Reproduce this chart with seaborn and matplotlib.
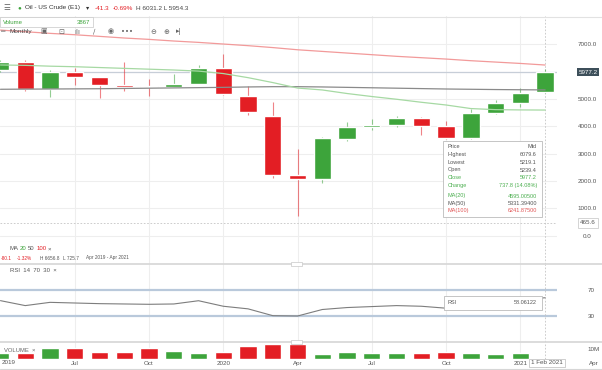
import numpy as np
import pandas as pd
import matplotlib.pyplot as plt
import seaborn as sns
from matplotlib.patches import Rectangle
from matplotlib.lines import Line2D

# --- Data (monthly candles, Apr 2019 .. Feb 2021) ---
months = ["Apr 2019", "May 2019", "Jun 2019", "Jul 2019", "Aug 2019", "Sep 2019",
          "Oct 2019", "Nov 2019", "Dec 2019", "Jan 2020", "Feb 2020", "Mar 2020",
          "Apr 2020", "May 2020", "Jun 2020", "Jul 2020", "Aug 2020", "Sep 2020",
          "Oct 2020", "Nov 2020", "Dec 2020", "Jan 2021", "Feb 2021"]
opens  = [6061, 6364, 5355, 5998, 5794, 5512, 5475, 5450, 5548, 6123, 5110, 4378,
          2216, 2070, 3526, 3965, 4049, 4316, 4023, 3584, 4499, 4843, 5239.4]
highs  = [6420, 6426, 6050, 6123, 5820, 6364, 5720, 5903, 6244, 6656.8, 5475, 4901,
          3160, 3600, 4170, 4268, 4378, 4330, 4195, 4623, 4963, 5391, 6079.6]
lows   = [6000, 5300, 5084, 5512, 5048, 5304, 5121, 5430, 5530, 5150, 4415, 2100,
          725.7, 1940, 3464, 3866, 3990, 3683, 3525, 3550, 4440, 4718, 5219.1]
closes = [6364, 5355, 5998, 5794, 5512, 5450, 5440, 5560, 6123, 5183, 4535, 2216,
          2070, 3562, 3965, 4049, 4316, 4012, 3584, 4499, 4843, 5230, 5977.2]
ma20   = [6244, 6230, 6200, 6180, 6150, 6120, 6090, 6060, 6020, 5930, 5780, 5600,
          5400, 5330, 5200, 5090, 4990, 4880, 4780, 4650, 4610, 4600, 4595.0]
ma50   = [5355, 5360, 5365, 5370, 5375, 5385, 5395, 5405, 5415, 5425, 5440, 5450,
          5450, 5440, 5425, 5410, 5395, 5380, 5365, 5355, 5345, 5338, 5331.4]
ma100  = [7520, 7460, 7400, 7350, 7290, 7230, 7180, 7120, 7070, 7010, 6950, 6880,
          6800, 6740, 6680, 6620, 6560, 6510, 6460, 6400, 6350, 6300, 6241.9]
rsi    = [53.6, 46.0, 51.0, 50.0, 49.0, 48.5, 48.0, 48.5, 53.5, 45.0, 41.0, 30.5,
          30.0, 40.0, 43.0, 44.5, 46.0, 45.0, 42.0, 50.0, 53.0, 55.5, 58.06]
volume_m = [6.2, 6.2, 11.0, 11.0, 6.9, 6.9, 11.0, 8.6, 6.5, 7.2, 13.4, 15.2,
            15.2, 5.2, 7.2, 5.9, 5.9, 6.5, 7.2, 6.5, 5.2, 5.9, 0.004]

tick_pos    = [3, 6, 9, 12, 15, 18, 21]
tick_labels = ["Jul", "Oct", "2020", "Apr", "Jul", "Oct", "2021"]
price_ticks = [0, 1000, 2000, 3000, 4000, 5000, 6000, 7000]

df = pd.DataFrame({"month": months, "open": opens, "high": highs, "low": lows,
                   "close": closes, "ma20": ma20, "ma50": ma50, "ma100": ma100,
                   "rsi": rsi, "volume": volume_m})
df["idx"] = np.arange(len(df))
df["up"] = df["close"] >= df["open"]

RED = "#e31e24"
GREEN = "#3da43b"
GRID = "#eeeeee"
TXT = "#555555"
W, H = 602, 370
XLIM = (-0.02, 22.48)

sns.set_theme(style="white")
plt.rcParams["font.family"] = ["Liberation Sans", "DejaVu Sans"]

fig = plt.figure(figsize=(W / 100, H / 100), dpi=100)


def px_axes(x0, y0, x1, y1):
    return fig.add_axes([x0 / W, 1 - y1 / H, (x1 - x0) / W, (y1 - y0) / H])


def ftext(x, y, s, **kw):
    kw.setdefault("fontsize", 4.3)
    kw.setdefault("va", "center")
    kw.setdefault("color", TXT)
    return fig.text(x / W, 1 - y / H, s, **kw)


def fbox(x0, y0, x1, y1, fc="white", ec="#bbbbbb", lw=0.6, z=5):
    fig.add_artist(Rectangle((x0 / W, 1 - y1 / H), (x1 - x0) / W, (y1 - y0) / H,
                             transform=fig.transFigure, fc=fc, ec=ec, lw=lw, zorder=z))


def fline(x0, y0, x1, y1, **kw):
    fig.add_artist(Line2D([x0 / W, x1 / W], [1 - y0 / H, 1 - y1 / H],
                          transform=fig.transFigure, **kw))


def style_axes(ax):
    for s in ax.spines.values():
        s.set_visible(False)
    ax.set_xlim(*XLIM)
    ax.set_xticks(tick_pos)
    ax.grid(axis="x", color=GRID, lw=0.8)
    ax.yaxis.tick_right()
    ax.tick_params(length=0, labelsize=4.5, labelcolor=TXT, pad=22)
    ax.set_xlabel("")
    ax.set_ylabel("")


# --- Price panel ---
ax_p = px_axes(0, 16, 557, 264)
style_axes(ax_p)
ax_p.set_ylim(-1035, 8035)
ax_p.set_yticks(price_ticks)
ax_p.set_yticklabels([f"{v:.1f}" for v in price_ticks])
ax_p.grid(axis="y", color=GRID, lw=0.8)
ax_p.tick_params(labelbottom=False)
for lbl in ax_p.get_yticklabels():
    lbl.set_ha("center")

cols = [GREEN if u else RED for u in df["up"]]
ax_p.vlines(df["idx"], df["low"], df["high"], colors=cols, lw=0.8, alpha=0.55, zorder=2)
ax_p.bar(df["idx"], df["close"] - df["open"], bottom=df["open"], width=0.7,
         color=cols, zorder=3)

sns.lineplot(data=df, x="idx", y="ma100", color="#f29a9a", lw=0.9, ax=ax_p, zorder=4)
sns.lineplot(data=df, x="idx", y="ma50", color="#8a8a8a", lw=0.9, ax=ax_p, zorder=4)
sns.lineplot(data=df, x="idx", y="ma20", color="#a6d9a3", lw=0.9, ax=ax_p, zorder=4)
ax_p.set_xlabel("")
ax_p.set_ylabel("")

ax_p.axhline(closes[-1], color="#c7ced8", lw=0.9, zorder=1)
ax_p.axhline(465.6, color="#c4c4c4", lw=0.6, ls=(0, (2, 2)), zorder=1)
ax_p.axvline(22, color="#c4c4c4", lw=0.6, ls=(0, (2, 2)), zorder=1)

ytr = ax_p.get_yaxis_transform()
ax_p.text(31 / 557 + 1, closes[-1], f"{closes[-1]:.1f}", transform=ytr, ha="center",
          va="center", fontsize=4.5, color="white", clip_on=False, zorder=10,
          bbox=dict(boxstyle="square,pad=0.25", fc="#3d4f5a", ec="none"))
ax_p.text(31 / 557 + 1, 465.6, "465.6", transform=ytr, ha="center", va="center",
          fontsize=4.5, color=TXT, clip_on=False, zorder=10,
          bbox=dict(boxstyle="square,pad=0.35", fc="white", ec="#c4c4c4", lw=0.5))

# --- RSI panel ---
ax_r = px_axes(0, 264, 557, 342)
style_axes(ax_r)
ax_r.set_ylim(-10, 110)
ax_r.set_yticks([30, 70])
ax_r.set_yticklabels(["30", "70"])
ax_r.tick_params(labelbottom=False)
ax_r.axhline(70, color="#b9c9db", lw=1.6, zorder=1)
ax_r.axhline(30, color="#b9c9db", lw=1.6, zorder=1)
sns.lineplot(data=df, x="idx", y="rsi", color="#7d7d7d", lw=0.8, ax=ax_r, zorder=3)
ax_r.set_xlabel("")
ax_r.set_ylabel("")
ax_r.axvline(22, color="#c4c4c4", lw=0.6, ls=(0, (2, 2)), zorder=1)

# --- Volume panel ---
ax_v = px_axes(0, 342, 557, 359)
sns.barplot(data=df, x="idx", y="volume", hue="up", palette={True: GREEN, False: RED},
            width=0.7, dodge=False, legend=False, saturation=1, ax=ax_v)
style_axes(ax_v)
ax_v.set_ylim(0, 17.5)
ax_v.set_yticks([10])
ax_v.set_yticklabels(["10M"])
ax_v.set_xticklabels(tick_labels)
ax_v.tick_params(axis="x", pad=1.5)
ax_v.axvline(22, color="#c4c4c4", lw=0.6, ls=(0, (2, 2)), zorder=1)

# --- Separators and bottom ---
fline(0, 16.5, W, 16.5, color="#e2e2e2", lw=0.8)
for ys in (264, 342):
    fline(0, ys, W, ys, color="#d6d6d6", lw=1.2)
    fbox(291, ys - 2, 302, ys + 2, fc="white", ec="#c8c8c8", lw=0.5)
fline(0, 368.5, W, 368.5, color="#d6d6d6", lw=0.8)
fline(545.5, 359, 545.5, 368, color="#c4c4c4", lw=0.6, ls=(0, (2, 2)))
ftext(2, 363, "2019", fontsize=4.5)
ftext(594, 363, "Apr", fontsize=4.5, ha="center")
ftext(547, 363, "1 Feb 2021", fontsize=4.5, ha="center", zorder=8,
      bbox=dict(boxstyle="square,pad=0.3", fc="white", ec="#bbbbbb", lw=0.5))

# --- Header ---
ftext(3, 8, "☰", fontsize=5.5, color="#666666")
ftext(17, 8, "●", fontsize=4.5, color=GREEN)
ftext(25, 8, "Oil - US Crude (E1)", fontsize=4.6, color="#333333")
ftext(86, 8, "▾", fontsize=4.6, color="#333333")
ftext(95, 8, "-41.3", fontsize=4.6, color=RED)
ftext(113, 8, "-0.69%", fontsize=4.6, color=RED)
ftext(136, 8, "H 6031.2 L 5954.3", fontsize=4.6, color="#444444")

fbox(0, 17, 93, 27, fc="white", ec="#c8c8c8", lw=0.5, z=6)
ftext(3, 22, "Volume", fontsize=4.3, color=GREEN, zorder=7)
ftext(90, 22, "3867", fontsize=4.3, color=GREEN, ha="right", zorder=7)

ftext(1, 31.5, "═", fontsize=4.5, color="#777777")
ftext(10, 31.5, "Monthly", fontsize=4.6, color="#444444")
for x, g in [(44, "▣"), (61, "⊡"), (77, "ılı"), (94, "∕"), (111, "◉"),
             (127, "•••"), (153, "⊖"), (166, "⊕"), (179, "▸|")]:
    ftext(x, 31.5, g, fontsize=5, color="#666666", ha="center", family="DejaVu Sans")

# --- Indicator legends ---
ftext(10, 249, "MA", fontsize=4.3)
ftext(20, 249, "20", fontsize=4.3, color=GREEN)
ftext(28, 249, "50", fontsize=4.3)
ftext(37, 249, "100", fontsize=4.3, color=RED)
ftext(48, 249, "×", fontsize=4.3)
ftext(1, 258, "-80.1", fontsize=3.4, color=RED)
ftext(17, 258, "-1.32%", fontsize=3.4, color=RED)
ftext(40, 258, "H 6656.8", fontsize=3.4)
ftext(63, 258, "L 725.7", fontsize=3.4)
ftext(86, 258, "Apr 2019 - Apr 2021", fontsize=3.4)
ftext(10, 271, "RSI  14  70  30  ×", fontsize=4.3)
ftext(4, 350, "VOLUME  ×", fontsize=4.2, color="#666666", zorder=7,
      bbox=dict(boxstyle="square,pad=0.15", fc="white", ec="none", alpha=0.55))

# --- Tooltip ---
fbox(443, 141, 542, 217, fc="white", ec="#bbbbbb", lw=0.6, z=8)
rows = [(146.7, "Price", "Mid", TXT), (155, "Highest", f"{highs[-1]:.1f}", TXT),
        (162.3, "Lowest", f"{lows[-1]:.1f}", TXT), (170, "Open", f"{opens[-1]:.1f}", TXT),
        (177.7, "Close", f"{closes[-1]:.1f}", "#4caf50"),
        (185, "Change", "737.8 (14.08%)", "#4caf50"),
        (196, "MA(20)", "4595.00500", "#4caf50"), (203.3, "MA(50)", "5331.39400", TXT),
        (211, "MA(100)", "6241.87500", "#e05555")]
for y, left, right, c in rows:
    ftext(448, y, left, fontsize=4.0, color=c, zorder=9)
    ftext(537, y, right, fontsize=4.0, color=c, ha="right", zorder=9)

fbox(444, 296, 542, 310, fc="white", ec="#bbbbbb", lw=0.6, z=8)
ftext(448, 303, "RSI", fontsize=4.0, zorder=9)
ftext(537, 303, "58.06122", fontsize=4.0, ha="right", zorder=9)

fig.savefig("out.png", dpi=100)
